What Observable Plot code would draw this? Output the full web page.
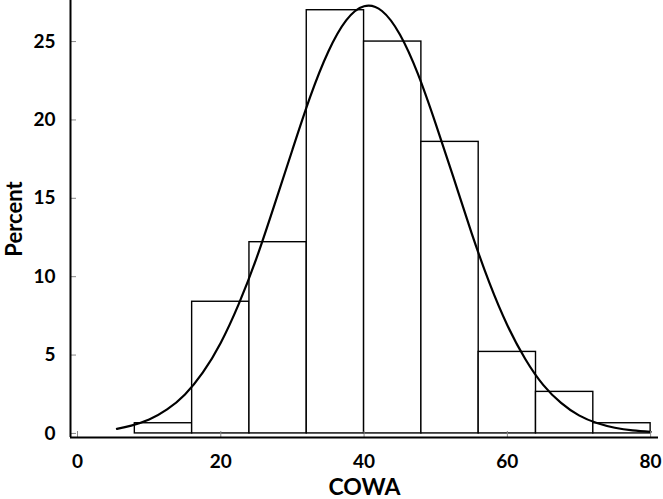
<!DOCTYPE html>
<html>
<head>
<meta charset="utf-8">
<script src="https://cdn.jsdelivr.net/npm/d3@7"></script>
<script src="https://cdn.jsdelivr.net/npm/@observablehq/plot@0.6"></script>
<style>
  html, body { margin: 0; padding: 0; background: #fff; }
  svg { display: block; }
</style>
</head>
<body>
<div id="chart"></div>
<script>
// Histogram bins (COWA score) and percent
const binStart = [8, 16, 24, 32, 40, 48, 56, 64, 72];
const binEnd   = [16, 24, 32, 40, 48, 56, 64, 72, 80];
const percent  = [0.65, 8.4, 12.2, 27.0, 25.0, 18.6, 5.2, 2.65, 0.65];

// Fitted normal curve
const curveX = [5.5, 7.5, 10, 12.5, 15, 17.5, 20, 22.5, 25, 27.5, 30, 32.5, 35, 37.5, 40, 42.5, 45, 47.5, 50, 52.5, 55, 57.5, 60, 62.5, 65, 67.5, 70, 72.5, 75, 77.5, 80];
const curveY = [0.29, 0.5, 0.89, 1.53, 2.49, 3.89, 5.79, 8.25, 11.2, 14.6, 18.1, 21.5, 24.35, 26.35, 27.25, 26.95, 25.45, 22.95, 19.75, 16.3, 12.8, 9.6, 6.9, 4.75, 3.1, 1.95, 1.15, 0.66, 0.36, 0.19, 0.1];

const xTicks = [0, 20, 40, 60, 80];
const yTicks = [0, 5, 10, 15, 20, 25];
const xLabel = "COWA";
const yLabel = "Percent";

const xDomain = [-0.98, 81.1];
const yDomain = [-0.26, 27.62];

const bars = binStart.map((s, i) => ({x1: s, x2: binEnd[i], y: percent[i]}));
const curve = curveX.map((x, i) => ({x, y: curveY[i]}));

const font = "Lato, 'Open Sans', sans-serif";

const chart = Plot.plot({
  width: 663,
  height: 499,
  marginLeft: 70,
  marginRight: 5,
  marginTop: 0,
  marginBottom: 62,
  style: {fontFamily: font, background: "#fff"},
  x: {domain: xDomain, ticks: xTicks},
  y: {domain: yDomain, ticks: yTicks},
  marks: [
    Plot.rectY(bars, {x1: "x1", x2: "x2", y1: 0, y2: "y", fill: "white", stroke: "black", strokeWidth: 1.4}),
    Plot.line(curve, {x: "x", y: "y", curve: "natural", stroke: "black", strokeWidth: 2.2}),
    // inward tick marks
    Plot.axisY(yTicks, {tickSize: 6, dx: 6, stroke: "#888", tickFormat: () => "", label: null}),
    Plot.axisX(xTicks, {tickSize: 6, dy: -6, stroke: "#888", tickFormat: () => "", label: null}),
    // tick labels
    Plot.axisY(yTicks, {tickSize: 0, tickPadding: 15, fontSize: 19, fontWeight: "bold", fill: "black", label: null}),
    Plot.axisX(xTicks, {tickSize: 0, tickPadding: 17, fontSize: 19, fontWeight: "bold", fill: "black", label: null}),
    // axis lines
    Plot.ruleX([xDomain[0]], {stroke: "black", strokeWidth: 2}),
    Plot.ruleY([yDomain[0]], {stroke: "black", strokeWidth: 2}),
    // axis titles
    Plot.text([xLabel], {text: d => d, frameAnchor: "bottom", textAnchor: "middle", lineAnchor: "bottom", dy: 57, fontSize: 23, fontWeight: "bold", letterSpacing: 3, fill: "black"}),
    Plot.text([yLabel], {text: d => d, frameAnchor: "left", textAnchor: "middle", dx: -56, rotate: -90, fontSize: 22, fontWeight: "bold", letterSpacing: 1.5, fill: "black"})
  ]
});
document.getElementById("chart").appendChild(chart);
</script>
</body>
</html>
